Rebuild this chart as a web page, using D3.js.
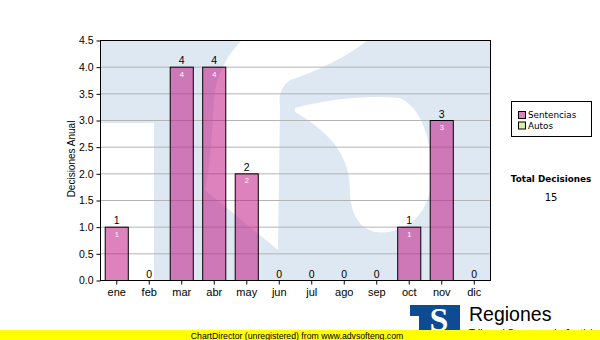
<!DOCTYPE html>
<html>
<head>
<meta charset="utf-8">
<script src="https://cdn.jsdelivr.net/npm/d3@7"></script>
<style>
  body { margin: 0; background: #fff; }
  svg { display: block; }
</style>
</head>
<body>
<div id="chart"></div>
<script>
// chart data
const months = ['ene', 'feb', 'mar', 'abr', 'may', 'jun', 'jul', 'ago', 'sep', 'oct', 'nov', 'dic'];
const sentencias = [1, 0, 4, 4, 2, 0, 0, 0, 0, 1, 3, 0];
const autos = [0, 0, 0, 0, 0, 0, 0, 0, 0, 0, 0, 0];
const seriesNames = ['Sentencias', 'Autos'];
const yTicks = [0, 0.5, 1, 1.5, 2, 2.5, 3, 3.5, 4, 4.5];

const width = 600, height = 340;
const margin = { top: 40, right: 110, bottom: 60, left: 100 };
const plotW = width - margin.left - margin.right;
const plotH = height - margin.top - margin.bottom;

const colors = ['#c31c89', '#d9ef9f'];
const axisFont = 'Liberation Sans, Arial, sans-serif';
const boxFont = 'DejaVu Sans, Verdana, sans-serif';

const table = months.map((m, i) => ({ month: m, Sentencias: sentencias[i], Autos: autos[i] }));
const stacked = d3.stack().keys(seriesNames)(table);
const totals = table.map(d => d.Sentencias + d.Autos);

const svg = d3.select('#chart').append('svg')
  .attr('width', width)
  .attr('height', height);

const x = d3.scaleBand()
  .domain(months)
  .range([0, plotW])
  .paddingInner(0.29)
  .paddingOuter(0.145);

const y = d3.scaleLinear()
  .domain([0, 4.5])
  .range([plotH, 0]);

const g = svg.append('g')
  .attr('transform', `translate(${margin.left},${margin.top})`);

// watermark (logo "S") behind the plot
svg.append('clipPath').attr('id', 'plotClip')
  .append('rect').attr('width', plotW).attr('height', plotH);

const wm = g.append('g').attr('clip-path', 'url(#plotClip)');
wm.append('rect').attr('width', plotW).attr('height', plotH).attr('fill', '#dee8f2');
wm.append('rect').attr('x', 0).attr('y', 83).attr('width', 54).attr('height', plotH - 83).attr('fill', '#fff');
wm.append('path')
  .attr('d', 'M142,0 L268,0 C245,18 215,32 190,40 C182,46 178,55 180,65 L178,210 L105,150 C112,120 112,80 115,50 C120,28 130,12 142,0 Z')
  .attr('fill', '#fff');
wm.append('path')
  .attr('d', 'M195,68 C225,60 265,55 300,58 C325,70 335,110 330,150 C325,180 300,195 275,192 C258,188 250,172 250,150 C250,120 235,95 195,72 Z')
  .attr('fill', '#fff');

// grid
g.append('g')
  .selectAll('line')
  .data(yTicks.filter(t => t > 0))
  .join('line')
  .attr('x1', 0)
  .attr('x2', plotW)
  .attr('y1', d => y(d) + 0.5)
  .attr('y2', d => y(d) + 0.5)
  .attr('stroke', '#b4b4b4')
  .attr('stroke-width', 1);

// bars
stacked.forEach((layer, si) => {
  g.append('g')
    .selectAll('rect')
    .data(layer.filter(d => d[1] > d[0]))
    .join('rect')
    .attr('x', d => x(d.data.month) + 0.5)
    .attr('y', d => y(d[1]) + 0.5)
    .attr('width', x.bandwidth())
    .attr('height', d => y(d[0]) - y(d[1]))
    .attr('fill', colors[si])
    .attr('fill-opacity', 0.55)
    .attr('stroke', '#000')
    .attr('stroke-width', 1);

  // value inside each segment
  g.append('g')
    .selectAll('text')
    .data(layer.filter(d => d[1] > d[0]))
    .join('text')
    .attr('x', d => x(d.data.month) + x.bandwidth() / 2 + 0.5)
    .attr('y', d => y(d[1]) + 10)
    .attr('text-anchor', 'middle')
    .attr('font-family', axisFont)
    .attr('font-size', '7.5px')
    .attr('fill', '#fff')
    .text(d => d[1] - d[0]);
});

// totals above bars
g.append('g')
  .selectAll('text')
  .data(totals)
  .join('text')
  .attr('x', (d, i) => x(months[i]) + x.bandwidth() / 2 + 0.5)
  .attr('y', d => y(d) - 2.5)
  .attr('text-anchor', 'middle')
  .attr('font-family', axisFont)
  .attr('font-size', '10.5px')
  .attr('fill', '#000')
  .text(d => d);

// frame
g.append('rect')
  .attr('x', 0.5)
  .attr('y', 0.5)
  .attr('width', plotW)
  .attr('height', plotH)
  .attr('fill', 'none')
  .attr('stroke', '#000');

// axes
const yAxis = g.append('g')
  .attr('transform', 'translate(0.5,0.5)')
  .call(d3.axisLeft(y).tickValues(yTicks).tickFormat(d3.format('.1f')).tickSize(4).tickPadding(3));
yAxis.select('.domain').remove();
yAxis.selectAll('text').attr('font-family', axisFont).attr('font-size', '10.5px').attr('fill', '#000');

const xAxis = g.append('g')
  .attr('transform', `translate(0.5,${plotH + 0.5})`)
  .call(d3.axisBottom(x).tickSize(4).tickPadding(4));
xAxis.select('.domain').remove();
xAxis.selectAll('text').attr('font-family', axisFont).attr('font-size', '11px').attr('fill', '#000');

// y axis title
svg.append('text')
  .attr('transform', 'translate(75,159) rotate(-90)')
  .attr('text-anchor', 'middle')
  .attr('font-family', axisFont)
  .attr('font-size', '10px')
  .attr('fill', '#000')
  .text('Decisiones Anual');

// legend
const legend = svg.append('g').attr('transform', 'translate(511,101)');
legend.append('rect')
  .attr('x', 0.5).attr('y', 0.5)
  .attr('width', 80).attr('height', 35)
  .attr('fill', '#fff')
  .attr('stroke', '#000');
seriesNames.forEach((name, i) => {
  legend.append('rect')
    .attr('x', 7.5).attr('y', 10.5 + i * 10.5)
    .attr('width', 7).attr('height', 7)
    .attr('fill', colors[i])
    .attr('fill-opacity', i === 0 ? 0.55 : 1)
    .attr('stroke', '#000');
  legend.append('text')
    .attr('x', 17).attr('y', 17 + i * 10.5)
    .attr('font-family', boxFont)
    .attr('font-size', '8.8px')
    .attr('fill', '#000')
    .text(name);
});

// total box
svg.append('text')
  .attr('x', 551).attr('y', 182)
  .attr('text-anchor', 'middle')
  .attr('font-family', boxFont)
  .attr('font-weight', 'bold')
  .attr('font-size', '8.8px')
  .attr('fill', '#000')
  .text('Total Decisiones');
svg.append('text')
  .attr('x', 551).attr('y', 201)
  .attr('text-anchor', 'middle')
  .attr('font-family', boxFont)
  .attr('font-size', '10px')
  .attr('fill', '#000')
  .text(d3.sum(totals));

// logo
const logo = svg.append('g');
logo.append('rect').attr('x', 410).attr('y', 305).attr('width', 50).attr('height', 26).attr('fill', '#0d4b93');
logo.append('rect').attr('x', 410).attr('y', 316).attr('width', 9).attr('height', 15).attr('fill', '#fff');
logo.append('text')
  .attr('x', 439).attr('y', 331)
  .attr('text-anchor', 'middle')
  .attr('font-family', 'Liberation Serif, serif')
  .attr('font-weight', 'bold')
  .attr('font-size', '34px')
  .attr('fill', '#fff')
  .text('S');
logo.append('text')
  .attr('x', 469).attr('y', 321)
  .attr('font-family', axisFont)
  .attr('font-size', '19.5px')
  .attr('fill', '#000')
  .text('Regiones');
logo.append('text')
  .attr('x', 469).attr('y', 337)
  .attr('font-family', axisFont)
  .attr('font-size', '10px')
  .attr('fill', '#000')
  .text('Tribunal Supremo de Justicia');

// unregistered banner
svg.append('rect')
  .attr('x', 0).attr('y', 330)
  .attr('width', width).attr('height', 10)
  .attr('fill', '#ffff00');
svg.append('text')
  .attr('x', 297).attr('y', 338.5)
  .attr('text-anchor', 'middle')
  .attr('font-family', axisFont)
  .attr('font-size', '8.7px')
  .attr('fill', '#000')
  .text('ChartDirector (unregistered) from www.advsofteng.com');
</script>
</body>
</html>
